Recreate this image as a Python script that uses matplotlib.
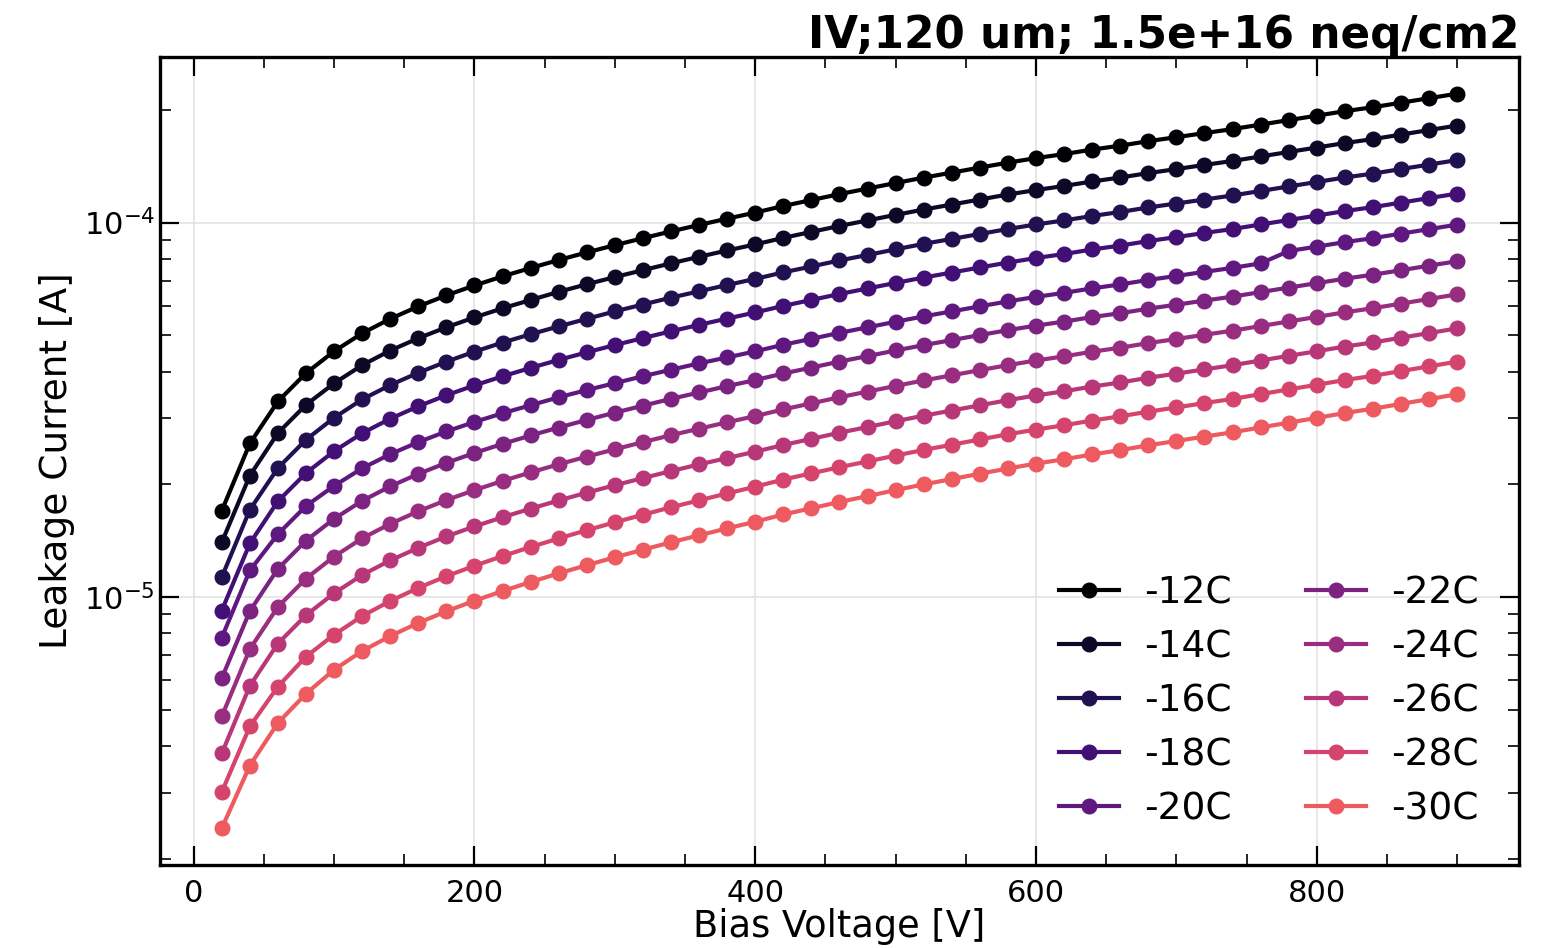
import numpy as np
import matplotlib
matplotlib.use("Agg")
import matplotlib.pyplot as plt
from matplotlib.ticker import MultipleLocator, LogLocator

# ---------------- data ----------------
bias_voltage = list(range(20, 901, 20))  # V

# leakage current in units of 1e-5 A
UNIT = 1e-5
i_m12 = [1.70, 2.57, 3.33, 3.96, 4.53, 5.06, 5.53, 5.97, 6.39, 6.79, 7.18, 7.56, 7.94, 8.32, 8.70,
         9.08, 9.47, 9.85, 10.24, 10.63, 11.07, 11.48, 11.91, 12.32, 12.75, 13.18, 13.59, 14.02, 14.45, 14.86,
         15.23, 15.66, 16.04, 16.49, 16.90, 17.33, 17.76, 18.26, 18.77, 19.29, 19.83, 20.32, 20.89, 21.48, 22.08]
i_m14 = [1.40, 2.11, 2.74, 3.26, 3.72, 4.16, 4.55, 4.91, 5.25, 5.58, 5.90, 6.21, 6.53, 6.84, 7.15,
         7.46, 7.78, 8.10, 8.42, 8.74, 9.10, 9.44, 9.79, 10.13, 10.48, 10.83, 11.17, 11.52, 11.88, 12.21,
         12.52, 12.87, 13.19, 13.55, 13.89, 14.25, 14.60, 15.01, 15.43, 15.86, 16.30, 16.70, 17.17, 17.66, 18.15]
i_m16 = [1.13, 1.71, 2.21, 2.63, 3.01, 3.37, 3.68, 3.97, 4.25, 4.52, 4.78, 5.03, 5.28, 5.53, 5.79,
         6.04, 6.30, 6.55, 6.81, 7.07, 7.36, 7.63, 7.92, 8.19, 8.48, 8.77, 9.04, 9.32, 9.61, 9.88,
         10.13, 10.41, 10.67, 10.97, 11.24, 11.52, 11.81, 12.14, 12.48, 12.83, 13.19, 13.51, 13.89, 14.28, 14.68]
i_m18 = [0.920, 1.390, 1.802, 2.142, 2.451, 2.737, 2.992, 3.230, 3.457, 3.673, 3.884, 4.090, 4.296, 4.501, 4.707,
         4.912, 5.123, 5.329, 5.540, 5.751, 5.989, 6.211, 6.443, 6.665, 6.898, 7.130, 7.352, 7.585, 7.817, 8.039,
         8.239, 8.472, 8.678, 8.921, 9.143, 9.376, 9.608, 9.879, 10.155, 10.436, 10.728, 10.993, 11.301, 11.621, 11.945]
i_m20 = [0.779, 1.177, 1.472, 1.750, 1.980, 2.206, 2.406, 2.591, 2.767, 2.933, 3.095, 3.251, 3.414, 3.569, 3.724,
         3.886, 4.044, 4.206, 4.362, 4.528, 4.716, 4.890, 5.074, 5.248, 5.432, 5.615, 5.789, 5.973, 6.156, 6.330,
         6.488, 6.671, 6.833, 7.025, 7.199, 7.383, 7.566, 7.779, 8.390, 8.623, 8.864, 9.083, 9.338, 9.602, 9.870]
i_m22 = [0.607, 0.917, 1.189, 1.414, 1.617, 1.806, 1.974, 2.131, 2.281, 2.424, 2.563, 2.699, 2.835, 2.970, 3.106,
         3.242, 3.381, 3.516, 3.656, 3.795, 3.952, 4.098, 4.252, 4.398, 4.552, 4.705, 4.852, 5.005, 5.159, 5.305,
         5.437, 5.591, 5.726, 5.887, 6.033, 6.187, 6.340, 6.519, 6.701, 6.887, 7.079, 7.254, 7.458, 7.668, 7.883]
i_m24 = [0.480, 0.726, 0.941, 1.120, 1.282, 1.434, 1.568, 1.694, 1.814, 1.929, 2.041, 2.151, 2.261, 2.370, 2.480,
         2.591, 2.704, 2.814, 2.928, 3.041, 3.169, 3.289, 3.415, 3.535, 3.661, 3.787, 3.907, 4.034, 4.160, 4.281,
         4.391, 4.518, 4.631, 4.764, 4.886, 5.014, 5.142, 5.290, 5.441, 5.596, 5.757, 5.903, 6.073, 6.249, 6.428]
i_m26 = [0.382, 0.579, 0.751, 0.894, 1.023, 1.145, 1.252, 1.353, 1.451, 1.543, 1.633, 1.721, 1.810, 1.899, 1.988,
         2.077, 2.169, 2.259, 2.350, 2.443, 2.546, 2.644, 2.746, 2.843, 2.947, 3.049, 3.147, 3.250, 3.354, 3.453,
         3.542, 3.647, 3.739, 3.849, 3.948, 4.053, 4.159, 4.280, 4.405, 4.531, 4.664, 4.783, 4.924, 5.067, 5.215]
i_m28 = [0.3014, 0.4510, 0.5764, 0.6930, 0.7928, 0.8890, 0.9755, 1.0573, 1.1361, 1.2113, 1.2859, 1.3593, 1.4332,
         1.5076, 1.5825, 1.6580, 1.7359, 1.8114, 1.8903, 1.9697, 2.0590, 2.1387, 2.2212, 2.3014, 2.3855, 2.4699,
         2.5495, 2.6344, 2.7195, 2.7996, 2.8739, 2.9597, 3.0364, 3.1249, 3.2076, 3.2944, 3.3797, 3.4804, 3.5832,
         3.6863, 3.7955, 3.8953, 4.0109, 4.1285, 4.2504]
i_m30 = [0.2412, 0.3547, 0.4609, 0.5516, 0.6392, 0.7170, 0.7864, 0.8525, 0.9157, 0.9771, 1.0368, 1.0962, 1.1561,
         1.2156, 1.2763, 1.3366, 1.3997, 1.4608, 1.5247, 1.5881, 1.6605, 1.7254, 1.7936, 1.8591, 1.9291, 1.9981,
         2.0643, 2.1338, 2.2036, 2.2706, 2.3317, 2.4022, 2.4670, 2.5411, 2.6094, 2.6810, 2.7528, 2.8358, 2.9206,
         3.0073, 3.0994, 3.1821, 3.2776, 3.3767, 3.4776]

labels = ["-12C", "-14C", "-16C", "-18C", "-20C", "-22C", "-24C", "-26C", "-28C", "-30C"]
series = [i_m12, i_m14, i_m16, i_m18, i_m20, i_m22, i_m24, i_m26, i_m28, i_m30]

title = "IV;120 um; 1.5e+16 neq/cm2"
xlabel = "Bias Voltage [V]"
ylabel = "Leakage Current [A]"

# ---------------- plot ----------------
fig = plt.figure(figsize=(15.46, 9.48), dpi=100)
ax = fig.add_axes([0.1035, 0.0876, 0.879, 0.8523])

colors = plt.cm.magma(np.linspace(0.0, 0.65, len(series)))
for vals, lab, c in zip(series, labels, colors):
    ax.plot(bias_voltage, np.array(vals) * UNIT, marker="o", ms=10.5, lw=3.0,
            color=c, label=lab)

ax.set_yscale("log")
ax.margins(x=0.05, y=0.05)

ax.xaxis.set_major_locator(MultipleLocator(200))
ax.xaxis.set_minor_locator(MultipleLocator(50))
ax.yaxis.set_major_locator(LogLocator(base=10))
ax.yaxis.set_minor_locator(LogLocator(base=10, subs=np.arange(2, 10)))

ax.tick_params(which="both", direction="in", top=True, right=True, labelsize=22, colors="black")
ax.tick_params(which="major", length=14, width=1.6)
ax.tick_params(which="minor", length=8, width=1.2)
ax.tick_params(axis="x", pad=10)

for s in ax.spines.values():
    s.set_linewidth(2.4)

ax.grid(True, which="major", color="#e3e3e3", lw=1.2)
ax.set_axisbelow(True)

ax.set_xlabel(xlabel, fontsize=26.5, labelpad=0)
ax.set_ylabel(ylabel, fontsize=27, labelpad=6)
ax.set_title(title, loc="right", fontsize=31.5, fontweight="bold", pad=5)

ax.legend(ncol=2, loc="lower right", frameon=False, fontsize=27,
          handlelength=1.6, handletextpad=0.65, columnspacing=2.0,
          labelspacing=0.48, bbox_to_anchor=(0.995, 0.005))

fig.savefig("out.png", dpi=100)
